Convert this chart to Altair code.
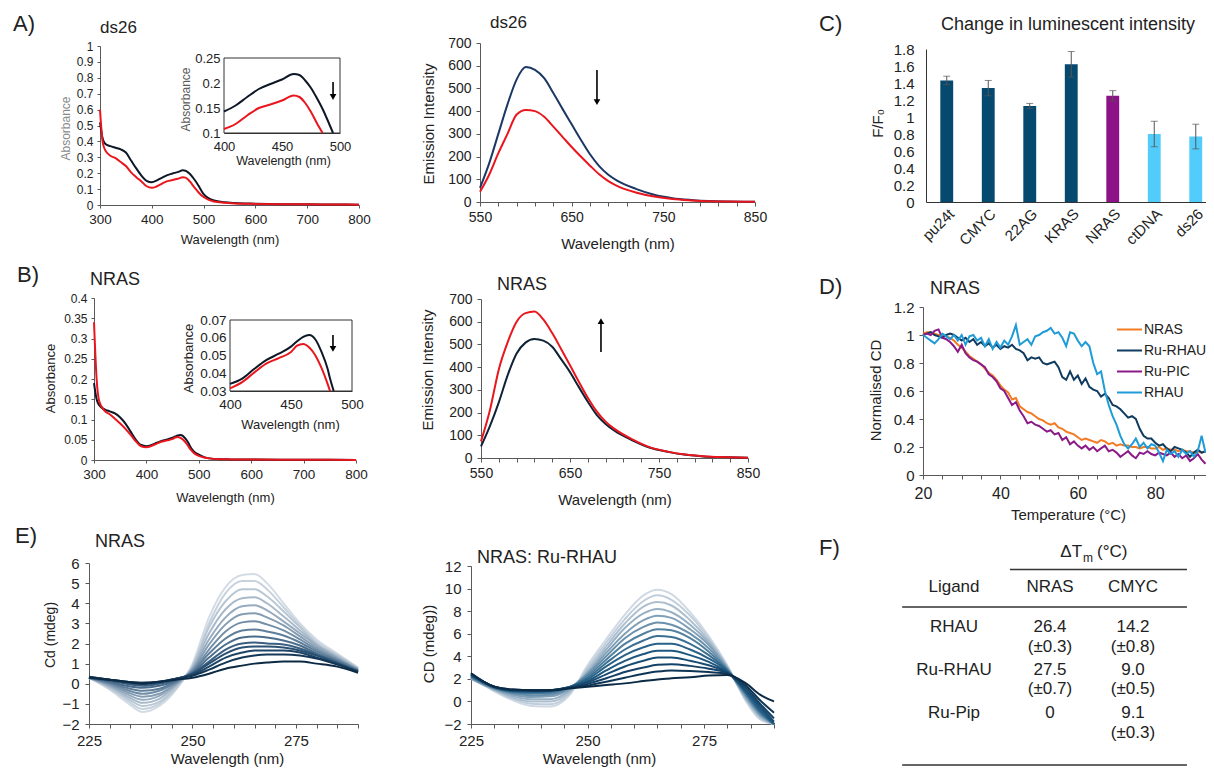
import altair as alt
import pandas as pd

W, H = 1198, 759
FONT = "Liberation Sans"
INK = "#222222"
AXC = "#595959"

# ---------------- data ----------------
series = ["DNA", "DNA + Ru complex"]

abs_a_wl = [300, 305, 310, 320, 330, 340, 350, 360, 370, 380, 390, 400, 410, 420, 430, 440, 450, 460,
            465, 470, 475, 480, 485, 490, 494, 500, 510, 520, 540, 560, 600, 650, 700, 750, 800]
abs_a_free = [0.52, 0.42, 0.385, 0.37, 0.36, 0.35, 0.33, 0.28, 0.23, 0.185, 0.152, 0.143, 0.155, 0.172,
              0.188, 0.198, 0.207, 0.218, 0.216, 0.205, 0.19, 0.17, 0.148, 0.122, 0.10, 0.068, 0.042,
              0.028, 0.017, 0.012, 0.008, 0.005, 0.004, 0.003, 0.002]
abs_a_bound = [0.60, 0.40, 0.345, 0.31, 0.295, 0.27, 0.245, 0.205, 0.175, 0.148, 0.118, 0.108, 0.118,
               0.135, 0.15, 0.157, 0.165, 0.175, 0.172, 0.16, 0.142, 0.12, 0.10, 0.08, 0.066, 0.05,
               0.032, 0.022, 0.014, 0.01, 0.007, 0.005, 0.004, 0.003, 0.002]

abs_b_wl = [300, 305, 310, 320, 330, 340, 350, 360, 370, 380, 390, 400, 410, 420, 430, 440, 450, 455,
            460, 465, 470, 475, 480, 482, 485, 490, 500, 510, 520, 540, 560, 600, 700, 800]
abs_b_free = [0.19, 0.15, 0.135, 0.125, 0.12, 0.115, 0.105, 0.09, 0.07, 0.05, 0.037, 0.034, 0.037,
              0.0425, 0.0475, 0.051, 0.055, 0.058, 0.0605, 0.0615, 0.059, 0.052, 0.0425, 0.037, 0.03,
              0.022, 0.013, 0.007, 0.004, 0.002, 0.0015, 0.001, 0.0005, 0.0003]
abs_b_bound = [0.34, 0.2, 0.145, 0.122, 0.113, 0.102, 0.09, 0.077, 0.062, 0.046, 0.034, 0.0315, 0.035,
               0.0405, 0.0455, 0.0485, 0.052, 0.0555, 0.0565, 0.0545, 0.05, 0.043, 0.034, 0.03, 0.025,
               0.018, 0.01, 0.006, 0.004, 0.002, 0.0015, 0.001, 0.0005, 0.0003]

em_wl = [550, 560, 570, 580, 590, 600, 610, 620, 630, 640, 650, 660, 670, 680, 690, 700, 720, 740,
         760, 780, 800, 820, 850]
em_a_free = [62, 170, 300, 430, 540, 594, 582, 545, 480, 410, 342, 274, 210, 158, 120, 93, 58, 32,
             17, 9, 4, 2, 1]
em_a_bound = [45, 120, 215, 300, 385, 405, 400, 375, 332, 287, 242, 200, 160, 122, 92, 70, 42, 24,
              13, 7, 3, 2, 1]
em_b_free = [51, 140, 245, 365, 460, 508, 524, 517, 490, 435, 378, 312, 248, 190, 150, 120, 78, 45,
             27, 14, 7, 4, 1]
em_b_bound = [73, 210, 390, 510, 600, 638, 645, 610, 550, 480, 408, 335, 265, 205, 160, 128, 82, 47,
              28, 15, 8, 4, 1]

c_labels = ["pu24t", "CMYC", "22AG", "KRAS", "NRAS", "ctDNA", "ds26"]
c_vals = [1.43, 1.34, 1.13, 1.62, 1.25, 0.80, 0.77]
c_err = [0.05, 0.09, 0.03, 0.15, 0.06, 0.15, 0.145]
c_colors = ["#05496f", "#05496f", "#05496f", "#05496f", "#8e1287", "#52cdfb", "#52cdfb"]

d_temps = list(range(20, 94))
d_names = ["NRAS", "Ru-RHAU", "Ru-PIC", "RHAU"]
d_colors = ["#f27b24", "#0f3b5f", "#8b1a89", "#1f9bd7"]
d_nras = [1.01, 1.02, 1.02, 1.01, 1.00, 1.00, 0.99, 0.98, 0.96, 0.93,
          0.91, 0.88, 0.85, 0.83, 0.81, 0.79, 0.76, 0.73, 0.71, 0.68,
          0.64, 0.61, 0.59, 0.54, 0.55, 0.49, 0.47, 0.45, 0.44, 0.42,
          0.40, 0.39, 0.37, 0.36, 0.37, 0.34, 0.33, 0.31, 0.30, 0.29,
          0.27, 0.25, 0.26, 0.25, 0.24, 0.23, 0.25, 0.24, 0.22, 0.23,
          0.21, 0.22, 0.21, 0.21, 0.20, 0.20, 0.19, 0.20, 0.20, 0.19,
          0.19, 0.20, 0.18, 0.19, 0.18, 0.18, 0.17, 0.18, 0.17, 0.17,
          0.16, 0.17, 0.16, 0.17]
d_rurhau = [1.00, 1.01, 1.02, 1.00, 0.99, 0.98, 1.00, 1.01, 1.00, 0.98,
            0.96, 0.98, 0.95, 0.97, 0.93, 0.95, 0.92, 0.94, 0.91, 0.93,
            0.90, 0.92, 0.91, 0.93, 0.90, 0.89, 0.87, 0.82, 0.84, 0.83,
            0.84, 0.80, 0.79, 0.80, 0.81, 0.77, 0.70, 0.68, 0.74, 0.68,
            0.71, 0.65, 0.69, 0.63, 0.61, 0.60, 0.56, 0.58, 0.55, 0.50,
            0.49, 0.47, 0.44, 0.41, 0.42, 0.40, 0.33, 0.28, 0.26, 0.26,
            0.23, 0.21, 0.22, 0.19, 0.17, 0.20, 0.19, 0.18, 0.16, 0.13,
            0.16, 0.18, 0.16, 0.17]
d_rupic = [1.00, 1.01, 1.00, 1.03, 1.04, 0.98, 0.97, 0.95, 0.92, 0.88,
           0.93, 0.87, 0.84, 0.82, 0.81, 0.79, 0.77, 0.72, 0.70, 0.67,
           0.62, 0.60, 0.55, 0.50, 0.52, 0.46, 0.42, 0.37, 0.38, 0.36,
           0.35, 0.33, 0.31, 0.32, 0.29, 0.30, 0.25, 0.27, 0.22, 0.24,
           0.21, 0.19, 0.21, 0.18, 0.20, 0.17, 0.19, 0.21, 0.17, 0.18,
           0.16, 0.13, 0.15, 0.17, 0.14, 0.12, 0.16, 0.15, 0.17, 0.15,
           0.14, 0.16, 0.15, 0.14, 0.16, 0.13, 0.15, 0.12, 0.14, 0.10,
           0.12, 0.15, 0.11, 0.08]
d_rhau = [1.00, 0.98, 0.96, 0.94, 0.97, 1.01, 0.99, 0.97, 1.00, 0.96,
          1.00, 0.93, 0.99, 1.00, 0.96, 0.98, 0.92, 0.97, 0.90, 0.95,
          0.91, 0.96, 0.93, 0.99, 1.07, 0.93, 0.95, 0.97, 0.93, 0.99,
          1.00, 1.02, 1.03, 1.05, 1.01, 1.02, 0.98, 0.92, 1.02, 1.01,
          0.96, 0.92, 0.95, 0.92, 0.80, 0.72, 0.74, 0.60, 0.50, 0.42,
          0.36, 0.28, 0.22, 0.19, 0.22, 0.26, 0.20, 0.23, 0.19, 0.22,
          0.21, 0.16, 0.10, 0.18, 0.15, 0.17, 0.13, 0.18, 0.15, 0.17,
          0.13, 0.17, 0.28, 0.16]

e1_wl = [225, 230, 234, 238, 242, 246, 250, 254, 258, 262, 265, 268, 272, 276, 280, 285, 290]
e1_curves = [
    [0.3, -0.3, -0.9, -1.4, -1.1, -0.3, 1.0, 3.3, 4.8, 5.4, 5.45, 5.0, 4.0, 3.0, 2.2, 1.5, 0.8],
    [0.3, -0.25, -0.8, -1.25, -1.0, -0.25, 0.9, 3.0, 4.5, 5.1, 5.1, 4.7, 3.8, 2.9, 2.1, 1.45, 0.8],
    [0.3, -0.2, -0.7, -1.1, -0.9, -0.2, 0.85, 2.8, 4.1, 4.7, 4.7, 4.35, 3.6, 2.8, 2.0, 1.4, 0.75],
    [0.3, -0.15, -0.6, -0.95, -0.75, -0.1, 0.8, 2.5, 3.7, 4.25, 4.3, 4.0, 3.35, 2.65, 1.95, 1.35, 0.75],
    [0.3, -0.1, -0.5, -0.8, -0.6, -0.05, 0.75, 2.2, 3.3, 3.85, 3.9, 3.65, 3.1, 2.5, 1.9, 1.3, 0.7],
    [0.3, -0.05, -0.4, -0.65, -0.5, 0.0, 0.7, 1.95, 2.95, 3.45, 3.5, 3.3, 2.9, 2.35, 1.8, 1.25, 0.7],
    [0.3, 0.0, -0.3, -0.5, -0.35, 0.05, 0.65, 1.7, 2.6, 3.05, 3.1, 2.95, 2.65, 2.2, 1.7, 1.2, 0.7],
    [0.3, 0.05, -0.2, -0.35, -0.25, 0.1, 0.6, 1.5, 2.25, 2.65, 2.7, 2.6, 2.4, 2.05, 1.6, 1.15, 0.65],
    [0.3, 0.1, -0.1, -0.2, -0.1, 0.15, 0.55, 1.3, 1.95, 2.3, 2.35, 2.3, 2.15, 1.9, 1.5, 1.1, 0.65],
    [0.3, 0.15, 0.0, -0.1, 0.0, 0.2, 0.5, 1.1, 1.7, 2.0, 2.05, 2.0, 1.95, 1.75, 1.45, 1.05, 0.6],
    [0.3, 0.2, 0.05, 0.0, 0.05, 0.25, 0.5, 1.0, 1.5, 1.8, 1.85, 1.85, 1.8, 1.65, 1.4, 1.0, 0.6],
    [0.35, 0.2, 0.1, 0.05, 0.1, 0.25, 0.45, 0.85, 1.3, 1.55, 1.65, 1.65, 1.65, 1.55, 1.3, 1.0, 0.6],
    [0.35, 0.2, 0.1, 0.05, 0.1, 0.25, 0.4, 0.7, 1.05, 1.3, 1.4, 1.45, 1.45, 1.4, 1.25, 0.95, 0.6],
    [0.3, 0.2, 0.1, 0.0, 0.1, 0.2, 0.3, 0.5, 0.75, 0.9, 1.0, 1.05, 1.1, 1.1, 1.0, 0.85, 0.55],
]
e1_colors = ["#d4dde6", "#c7d2dd", "#b8c7d4", "#a8b9ca", "#97abbf", "#859db3", "#728ea7",
             "#5f7e9a", "#4c6e8d", "#3a5f80", "#2a5173", "#1d4466", "#143756", "#0c2a44"]

e2_wl = [225, 230, 234, 238, 242, 246, 250, 254, 258, 262, 265, 268, 272, 276, 280, 284, 287, 290]
e2_curves = [
    [2.2, 0.9, 0.1, -0.4, -0.45, 0.5, 3.2, 5.5, 7.7, 9.4, 9.9, 9.5, 7.9, 5.8, 3.2, 0.0, -1.6, -3.0],
    [2.1, 0.95, 0.2, -0.2, -0.25, 0.6, 3.0, 5.2, 7.3, 8.9, 9.4, 9.0, 7.6, 5.6, 3.1, 0.1, -1.5, -2.9],
    [2.0, 1.0, 0.3, 0.0, 0.0, 0.75, 2.8, 4.9, 6.9, 8.4, 8.8, 8.5, 7.2, 5.4, 3.0, 0.2, -1.4, -2.8],
    [2.0, 1.05, 0.45, 0.2, 0.2, 0.9, 2.6, 4.6, 6.5, 7.8, 8.2, 7.9, 6.8, 5.2, 3.0, 0.3, -1.3, -2.7],
    [2.1, 1.1, 0.6, 0.4, 0.45, 1.05, 2.5, 4.3, 6.0, 7.2, 7.6, 7.4, 6.4, 5.0, 2.9, 0.4, -1.2, -2.6],
    [2.1, 1.15, 0.7, 0.55, 0.6, 1.15, 2.4, 4.0, 5.6, 6.6, 7.0, 6.8, 6.0, 4.7, 2.85, 0.5, -1.1, -2.5],
    [2.2, 1.2, 0.8, 0.7, 0.75, 1.2, 2.25, 3.7, 5.1, 6.0, 6.4, 6.3, 5.6, 4.4, 2.8, 0.6, -1.0, -2.4],
    [2.2, 1.2, 0.85, 0.8, 0.85, 1.25, 2.1, 3.4, 4.6, 5.4, 5.8, 5.7, 5.1, 4.1, 2.75, 0.7, -0.9, -2.3],
    [2.3, 1.25, 0.9, 0.85, 0.9, 1.25, 1.95, 3.1, 4.1, 4.8, 5.1, 5.1, 4.6, 3.8, 2.7, 0.8, -0.8, -2.2],
    [2.3, 1.25, 0.95, 0.9, 0.95, 1.25, 1.8, 2.75, 3.6, 4.2, 4.5, 4.5, 4.1, 3.5, 2.6, 0.9, -0.6, -2.0],
    [2.4, 1.3, 1.0, 0.95, 1.0, 1.25, 1.7, 2.4, 3.1, 3.6, 3.9, 3.9, 3.6, 3.2, 2.55, 1.0, -0.4, -1.8],
    [2.4, 1.3, 1.0, 1.0, 1.0, 1.2, 1.55, 2.05, 2.6, 3.0, 3.25, 3.3, 3.15, 2.9, 2.5, 1.2, -0.2, -1.5],
    [2.5, 1.3, 1.05, 1.0, 1.0, 1.2, 1.4, 1.75, 2.1, 2.45, 2.65, 2.75, 2.7, 2.6, 2.45, 1.4, 0.1, -1.0],
    [2.5, 1.3, 1.05, 1.0, 1.0, 1.15, 1.3, 1.45, 1.6, 1.8, 1.95, 2.05, 2.15, 2.3, 2.35, 1.6, 0.6, 0.0],
]
e2_colors = ["#d0dae4", "#c0cedb", "#aec0d0", "#98b0c4", "#81a0b8", "#6990ac", "#52809f",
             "#3c7093", "#296288", "#1f577e", "#194c72", "#144165", "#0f3656", "#0a2a45"]

table_header = ["Ligand", "NRAS", "CMYC"]
ligands = ["RHAU", "Ru-RHAU", "Ru-Pip"]
nras_tm = ["26.4", "27.5", "0"]
nras_err = ["(±0.3)", "(±0.7)", ""]
cmyc_tm = ["14.2", "9.0", "9.1"]
cmyc_err = ["(±0.8)", "(±0.5)", "(±0.3)"]

# tick values
abs_x_ticks = [300, 400, 500, 600, 700, 800]
absA_y_ticks = [0, 0.1, 0.2, 0.3, 0.4, 0.5, 0.6, 0.7, 0.8, 0.9, 1]
insA_y_ticks = [0.1, 0.15, 0.2, 0.25]
ins_x_ticks = [400, 450, 500]
absB_y_ticks = [0, 0.05, 0.1, 0.15, 0.2, 0.25, 0.3, 0.35, 0.4]
insB_y_ticks = [0.03, 0.04, 0.05, 0.06, 0.07]
em_x_ticks = list(range(550, 851, 20))
em_y_ticks = [0, 100, 200, 300, 400, 500, 600, 700]
c_y_ticks = [0, 0.2, 0.4, 0.6, 0.8, 1, 1.2, 1.4, 1.6, 1.8]
d_x_ticks = list(range(20, 94, 5))
d_y_ticks = [0, 0.2, 0.4, 0.6, 0.8, 1, 1.2]
e_x_ticks = list(range(225, 291, 5))
e1_y_ticks = [-2, -1, 0, 1, 2, 3, 4, 5, 6]
e2_y_ticks = [-2, 0, 2, 4, 6, 8, 10, 12]


# ---------------- helpers ----------------
def sc(dom, rng, **kw):
    return alt.Scale(domain=dom, range=rng, nice=False, zero=False, **kw)


def bax(y_line, title, tx=0, tdy=0, values=None, lsize=14, tsize=15, lexpr=None, fmt=None,
        ticks=True, tsz=4, lpad=4, angle=None, dcolor=AXC):
    kw = dict(orient="bottom", offset=y_line - H, grid=False,
              labelFont=FONT, labelFontSize=lsize, labelColor=INK, labelPadding=lpad,
              labelFlush=False, labelOverlap=False,
              ticks=ticks, tickSize=tsz, tickColor=AXC, tickWidth=1,
              domainColor=dcolor, domainWidth=1)
    if values is not None:
        kw["values"] = values
    if lexpr:
        kw["labelExpr"] = lexpr
    if fmt:
        kw["format"] = fmt
    if angle is not None:
        kw["labelAngle"] = angle
    if title:
        kw.update(title=title, titleX=tx, titleY=tdy, titleAngle=0, titleAlign="center",
                  titleBaseline="middle", titleFont=FONT, titleFontSize=tsize,
                  titleFontWeight="normal", titleColor=INK)
    else:
        kw["title"] = None
    return alt.Axis(**kw)


def lax(x_line, values, title, tdx, ty, lsize=14, tsize=15, tcolor=INK, fmt=".2~f",
        ticks=True, tsz=4, lpad=4, dcolor=AXC):
    return alt.Axis(orient="left", offset=-x_line, values=values, format=fmt, grid=False,
                    title=title, titleX=tdx, titleY=ty, titleAngle=270, titleAlign="center",
                    titleBaseline="middle", titleFont=FONT, titleFontSize=tsize,
                    titleFontWeight="normal", titleColor=tcolor,
                    labelFont=FONT, labelFontSize=lsize, labelColor=INK, labelPadding=lpad,
                    labelFlush=False, labelOverlap=False,
                    ticks=ticks, tickSize=tsz, tickColor=AXC, tickWidth=1,
                    domainColor=dcolor, domainWidth=1)


def long_df(xs, ys_list, names, xname, yname):
    rows = []
    for nm, ys in zip(names, ys_list):
        for xv, yv in zip(xs, ys):
            rows.append({xname: xv, yname: yv, "s": nm})
    return pd.DataFrame(rows)


def arrow(xsc, ysc, xax, yax, x, y0, y1, tip, shape):
    d = pd.DataFrame({"x": [x], "y0": [y0], "y1": [y1], "tip": [tip]})
    shaft = alt.Chart(d).mark_rule(color="black", strokeWidth=1.6).encode(
        x=alt.X("x:Q", scale=xsc, axis=xax), y=alt.Y("y0:Q", scale=ysc, axis=yax), y2="y1:Q")
    head = alt.Chart(d).mark_point(shape=shape, filled=True, size=45, color="black", opacity=1).encode(
        x=alt.X("x:Q", scale=xsc, axis=xax), y=alt.Y("tip:Q", scale=ysc, axis=yax))
    return [shaft, head]


def label(text, x, y, size, align="left", color=INK):
    return alt.Chart(alt.Data(values=[{}])).mark_text(
        text=text, font=FONT, fontSize=size, align=align, baseline="alphabetic", color=color
    ).encode(x=alt.value(x), y=alt.value(y))


BLACK = "#0e1726"
RED = "#ea161d"

# ---------------- A) absorbance ds26 ----------------
dfA = long_df(abs_a_wl, [abs_a_free, abs_a_bound], series, "wl", "a")
colA = alt.Color("s:N", scale=alt.Scale(domain=series, range=[BLACK, RED]), legend=None)
A_main = alt.Chart(dfA).mark_line(strokeWidth=2, interpolate="monotone").encode(
    x=alt.X("wl:Q", scale=sc([300, 800], [92, 351]),
            axis=bax(197, "Wavelength (nm)", 221.5, 34, abs_x_ticks, lsize=13.5, tsize=13, lpad=4, tsz=3)),
    y=alt.Y("a:Q", scale=sc([0, 1], [197, 38]),
            axis=lax(92, absA_y_ticks, "Absorbance", -35, 120, lsize=12, tsize=12, tcolor="#8a8a8a", tsz=3)),
    color=colA)

xA_in = sc([400, 500], [216, 332])
yA_in = sc([0.1, 0.25], [125, 50])
xA_in_ax = bax(125, "Wavelength (nm)", 275, 27, ins_x_ticks, lsize=13, tsize=12.5, ticks=False,
               lpad=7, dcolor="#333333")
yA_in_ax = lax(216, insA_y_ticks, "Absorbance", -39, 91, lsize=13, tsize=12, tcolor="#5a5a5a",
               ticks=False, lpad=4, dcolor="#333333")
boxA = alt.Chart(alt.Data(values=[{"x0": 400, "x1": 500, "y0": 0.1, "y1": 0.25}])).mark_rect(
    fill="white", stroke="#333333", strokeWidth=1).encode(
    x=alt.X("x0:Q", scale=xA_in, axis=xA_in_ax), x2="x1:Q",
    y=alt.Y("y0:Q", scale=yA_in, axis=yA_in_ax), y2="y1:Q")
A_in_lines = alt.Chart(dfA).transform_filter(
    "datum.wl >= 400 && datum.wl <= 500 && datum.a >= 0.0999").mark_line(
    strokeWidth=2, interpolate="monotone").encode(
    x=alt.X("wl:Q", scale=xA_in, axis=xA_in_ax),
    y=alt.Y("a:Q", scale=yA_in, axis=yA_in_ax),
    color=colA)
A_inset = alt.layer(boxA, A_in_lines,
                    *arrow(xA_in, yA_in, xA_in_ax, yA_in_ax, 494, 0.202, 0.175, 0.172, "triangle-down"))

# ---------------- A) emission ds26 ----------------
dfAE = long_df(em_wl, [em_a_free, em_a_bound], series, "wl", "i")
xAE = sc([550, 850], [472, 747])
yAE = sc([0, 700], [194, 35])
xAE_ax = bax(194, "Wavelength (nm)", 609.5, 41, em_x_ticks, lsize=14, tsize=15,
             lexpr="datum.value % 100 == 50 ? datum.label : ''", lpad=4)
yAE_ax = lax(472, em_y_ticks, "Emission Intensity", -52, 115.5, lsize=14, tsize=15, lpad=5)
AE_lines = alt.Chart(dfAE).mark_line(strokeWidth=2, interpolate="monotone").encode(
    x=alt.X("wl:Q", scale=xAE, axis=xAE_ax),
    y=alt.Y("i:Q", scale=yAE, axis=yAE_ax),
    color=alt.Color("s:N", scale=alt.Scale(domain=series, range=["#1b3764", RED]), legend=None))
A_em = alt.layer(AE_lines, *arrow(xAE, yAE, xAE_ax, yAE_ax, 677.6, 581, 445, 440, "triangle-down"))

# ---------------- C) bars ----------------
dfC = pd.DataFrame({"t": c_labels, "v": c_vals, "e": c_err})
xC_scale = alt.Scale(domain=c_labels, range=[918, 1208.5], paddingInner=0.69, paddingOuter=0.345)
yC = sc([0, 1.8], [194, 41])
xC_ax = bax(194, None, lsize=15, ticks=False, lpad=4, angle=-45, dcolor="#333333")
yC_ax = lax(918, c_y_ticks, "F/F₀", -49, 115, lsize=15, tsize=15, ticks=False, lpad=12, dcolor="#333333")
baseC = alt.Chart(dfC).transform_calculate(lo="datum.v - datum.e", hi="datum.v + datum.e")
xC = alt.X("t:N", sort=c_labels, scale=xC_scale, axis=xC_ax)
C_bars = baseC.mark_bar().encode(
    x=xC, y=alt.Y("v:Q", scale=yC, axis=yC_ax),
    color=alt.Color("t:N", scale=alt.Scale(domain=c_labels, range=c_colors), legend=None))
C_err = baseC.mark_rule(color="#555555", strokeWidth=1).encode(
    x=xC, y=alt.Y("lo:Q", scale=yC, axis=yC_ax), y2="hi:Q")
C_caplo = baseC.mark_tick(color="#555555", thickness=1, size=7).encode(
    x=xC, y=alt.Y("lo:Q", scale=yC, axis=yC_ax))
C_caphi = baseC.mark_tick(color="#555555", thickness=1, size=7).encode(
    x=xC, y=alt.Y("hi:Q", scale=yC, axis=yC_ax))
C_panel = alt.layer(C_bars, C_err, C_caplo, C_caphi)

# ---------------- B) absorbance NRAS ----------------
dfB = long_df(abs_b_wl, [abs_b_free, abs_b_bound], series, "wl", "a")
colB = alt.Color("s:N", scale=alt.Scale(domain=series, range=[BLACK, RED]), legend=None)
B_main = alt.Chart(dfB).mark_line(strokeWidth=2, interpolate="monotone").encode(
    x=alt.X("wl:Q", scale=sc([300, 800], [86, 348]),
            axis=bax(452, "Wavelength (nm)", 217, 37, abs_x_ticks, lsize=13.5, tsize=13, lpad=4, tsz=3)),
    y=alt.Y("a:Q", scale=sc([0, 0.4], [452, 290]),
            axis=lax(86, absB_y_ticks, "Absorbance", -44, 370, lsize=12, tsize=13, tsz=3)),
    color=colB)

xB_in = sc([400, 500], [222, 344])
yB_in = sc([0.03, 0.07], [383, 312])
xB_in_ax = bax(383, "Wavelength (nm)", 282, 33, ins_x_ticks, lsize=13.5, tsize=13, ticks=False,
               lpad=6, dcolor="#333333")
yB_in_ax = lax(222, insB_y_ticks, "Absorbance", -42, 350, lsize=13.5, tsize=13,
               ticks=False, lpad=4, dcolor="#333333")
boxB = alt.Chart(alt.Data(values=[{"x0": 400, "x1": 500, "y0": 0.03, "y1": 0.07}])).mark_rect(
    fill="white", stroke="#333333", strokeWidth=1).encode(
    x=alt.X("x0:Q", scale=xB_in, axis=xB_in_ax), x2="x1:Q",
    y=alt.Y("y0:Q", scale=yB_in, axis=yB_in_ax), y2="y1:Q")
B_in_lines = alt.Chart(dfB).transform_filter(
    "datum.wl >= 400 && datum.wl <= 500 && datum.a >= 0.0299").mark_line(
    strokeWidth=2, interpolate="monotone").encode(
    x=alt.X("wl:Q", scale=xB_in, axis=xB_in_ax),
    y=alt.Y("a:Q", scale=yB_in, axis=yB_in_ax),
    color=colB)
B_inset = alt.layer(boxB, B_in_lines,
                    *arrow(xB_in, yB_in, xB_in_ax, yB_in_ax, 484.4, 0.0615, 0.0545, 0.0537, "triangle-down"))

# ---------------- B) emission NRAS ----------------
dfBE = long_df(em_wl, [em_b_free, em_b_bound], series, "wl", "i")
xBE = sc([550, 850], [473, 740])
yBE = sc([0, 700], [450, 291])
xBE_ax = bax(450, "Wavelength (nm)", 606.5, 41, em_x_ticks, lsize=14, tsize=15,
             lexpr="datum.value % 100 == 50 ? datum.label : ''", lpad=4)
yBE_ax = lax(473, em_y_ticks, "Emission Intensity", -54, 361.5, lsize=14, tsize=15, lpad=5)
BE_lines = alt.Chart(dfBE).mark_line(strokeWidth=2, interpolate="monotone").encode(
    x=alt.X("wl:Q", scale=xBE, axis=xBE_ax),
    y=alt.Y("i:Q", scale=yBE, axis=yBE_ax),
    color=alt.Color("s:N", scale=alt.Scale(domain=series, range=["#0f2236", RED]), legend=None))
B_em = alt.layer(BE_lines, *arrow(xBE, yBE, xBE_ax, yBE_ax, 684.8, 467, 598, 603, "triangle-up"))

# ---------------- D) melting ----------------
dfD = long_df(d_temps, [d_nras, d_rurhau, d_rupic, d_rhau], d_names, "T", "v")
D_panel = alt.Chart(dfD).mark_line(strokeWidth=2).encode(
    x=alt.X("T:Q", scale=sc([20, 93], [915, 1197.5]),
            axis=bax(467, "Temperature (°C)", 1060, 39, d_x_ticks, lsize=16, tsize=15,
                     lexpr="datum.value % 20 == 0 ? datum.label : ''", lpad=6)),
    y=alt.Y("v:Q", scale=sc([0, 1.2], [467, 299]),
            axis=lax(915, d_y_ticks, "Normalised CD", -48, 382, lsize=15, tsize=15, lpad=5)),
    color=alt.Color("s:N", scale=alt.Scale(domain=d_names, range=d_colors),
                    legend=alt.Legend(orient="none", legendX=1108, legendY=308, title=None,
                                      direction="vertical", symbolType="stroke", symbolSize=625,
                                      symbolStrokeWidth=2, labelFont=FONT, labelFontSize=14,
                                      labelColor=INK, rowPadding=0, labelOffset=1, padding=0)))


# ---------------- E) CD spectra ----------------
def curves_df(xs, curves):
    rows = []
    for k, cv in enumerate(curves):
        for xv, yv in zip(xs, cv):
            rows.append({"wl": xv, "v": yv, "c": k + 1})
    return pd.DataFrame(rows)


dfE1 = curves_df(e1_wl, e1_curves)
E1 = alt.Chart(dfE1).mark_line(strokeWidth=2, interpolate="monotone").encode(
    x=alt.X("wl:Q", scale=sc([225, 290], [81, 350]),
            axis=bax(716, "Wavelength (nm)", 219, 34, e_x_ticks, lsize=15, tsize=15,
                     lexpr="datum.value % 25 == 0 ? datum.label : ''", lpad=5)),
    y=alt.Y("v:Q", scale=sc([-2, 6], [716, 555]),
            axis=lax(81, e1_y_ticks, "Cd (mdeg)", -39, 626.5, lsize=15, tsize=14, lpad=6)),
    color=alt.Color("c:O", scale=alt.Scale(domain=list(range(1, 15)), range=e1_colors), legend=None))

dfE2 = curves_df(e2_wl, e2_curves)
E2 = alt.Chart(dfE2).mark_line(strokeWidth=2, interpolate="monotone").encode(
    x=alt.X("wl:Q", scale=sc([225, 290], [463, 766]),
            axis=bax(716, "Wavelength (nm)", 591, 34, e_x_ticks, lsize=15, tsize=15,
                     lexpr="datum.value % 25 == 0 ? datum.label : ''", lpad=5)),
    y=alt.Y("v:Q", scale=sc([-2, 12], [716, 558], clamp=True),
            axis=lax(463, e2_y_ticks, "CD (mdeg))", -43, 635.5, lsize=15, tsize=15, lpad=6)),
    color=alt.Color("c:O", scale=alt.Scale(domain=list(range(1, 15)), range=e2_colors), legend=None))

# ---------------- F) table ----------------
tx = alt.Scale(domain=[-1, 0, 1, 2, 3], range=[850, 946, 1042, 1125, 1208], nice=False, zero=False)
ty = alt.Scale(domain=[0, 1, 2, 3, 4, 5, 6, 7, 8], range=[544, 579, 619, 639, 662, 681, 705, 725, 757],
               nice=False, zero=False)
cells = []
for c, h in enumerate(table_header):
    cells.append({"t": h, "col": c, "row": 1})
for i, lig in enumerate(ligands):
    r = 2 + 2 * i
    cells.append({"t": lig, "col": 0, "row": r})
    cells.append({"t": nras_tm[i], "col": 1, "row": r})
    cells.append({"t": cmyc_tm[i], "col": 2, "row": r})
    if nras_err[i]:
        cells.append({"t": nras_err[i], "col": 1, "row": r + 1})
    if cmyc_err[i]:
        cells.append({"t": cmyc_err[i], "col": 2, "row": r + 1})
dfT = pd.DataFrame(cells)
T_text = alt.Chart(dfT).mark_text(font=FONT, fontSize=17, color=INK, align="center", baseline="middle").encode(
    x=alt.X("col:Q", scale=tx, axis=None), y=alt.Y("row:Q", scale=ty, axis=None), text="t:N")
hdr = pd.DataFrame({"t": ["ΔT", "m", "(°C)"], "col": [1.386, 1.398, 1.566], "row": [0, 0, 0]})
T_h1 = alt.Chart(hdr.iloc[[0]]).mark_text(font=FONT, fontSize=17, color=INK, align="right",
                                           baseline="middle").encode(
    x=alt.X("col:Q", scale=tx, axis=None), y=alt.Y("row:Q", scale=ty, axis=None), text="t:N")
T_h2 = alt.Chart(hdr.iloc[[1]]).mark_text(font=FONT, fontSize=12, color=INK, align="left",
                                           baseline="middle", dy=6).encode(
    x=alt.X("col:Q", scale=tx, axis=None), y=alt.Y("row:Q", scale=ty, axis=None), text="t:N")
T_h3 = alt.Chart(hdr.iloc[[2]]).mark_text(font=FONT, fontSize=17, color=INK, align="left",
                                           baseline="middle").encode(
    x=alt.X("col:Q", scale=tx, axis=None), y=alt.Y("row:Q", scale=ty, axis=None), text="t:N")
rules = pd.DataFrame({"x0": [0.583, -0.54, -0.54], "x1": [2.65, 2.65, 2.65], "row": [0.5, 1.5, 8]})
T_rules = alt.Chart(rules).mark_rule(color="#333333", strokeWidth=1.3).encode(
    x=alt.X("x0:Q", scale=tx, axis=None), x2="x1:Q", y=alt.Y("row:Q", scale=ty, axis=None))
F_panel = alt.layer(T_rules, T_text, T_h1, T_h2, T_h3)

# ---------------- panel labels & titles ----------------
labels = [
    label("A)", 5, 23, 22),
    label("ds26", 92, 25, 17),
    label("ds26", 482, 20, 17),
    label("C)", 811, 23, 22),
    label("Change in luminescent intensity", 1060, 21.5, 18, align="center"),
    label("B)", 9, 274, 22),
    label("NRAS", 82, 277, 18),
    label("NRAS", 489, 282, 18),
    label("D)", 811, 286, 22),
    label("NRAS", 922, 286, 18),
    label("E)", 7, 535, 22),
    label("NRAS", 87, 539, 18),
    label("NRAS: Ru-RHAU", 469, 555, 18),
    label("F)", 811, 547, 22),
]

chart = alt.layer(
    A_main, A_inset, A_em, C_panel, B_main, B_inset, B_em, D_panel, E1, E2, F_panel, *labels
).resolve_scale(
    x="independent", y="independent", color="independent"
).resolve_axis(
    x="independent", y="independent"
).resolve_legend(
    color="independent"
).properties(
    width=W, height=H, autosize=alt.AutoSizeParams(type="none"), padding=0
).configure_view(strokeWidth=0)

chart.save("out.html", embed_options={"renderer": "svg", "actions": False})
